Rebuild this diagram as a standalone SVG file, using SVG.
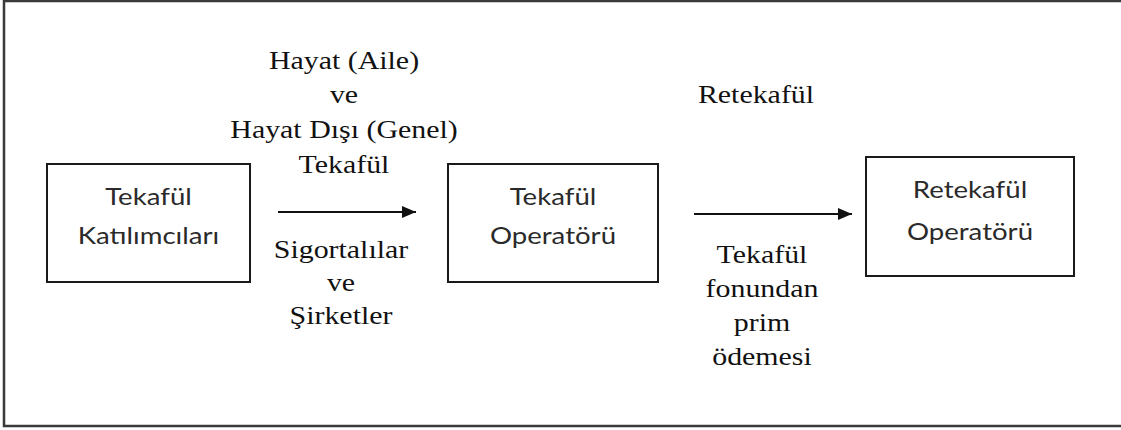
<svg xmlns="http://www.w3.org/2000/svg" width="1121" height="430" viewBox="0 0 1121 430">
  <defs>
    <style>
      .frame { fill: #ffffff; stroke: #3a3a3a; stroke-width: 2.5; }
      .box { fill: #ffffff; stroke: #1a1a1a; stroke-width: 2; }
      .conn { stroke: #111111; stroke-width: 2; fill: none; }
      .serif { font-family: "Liberation Serif", "Times New Roman", serif; font-size: 26px; fill: #111111; text-anchor: middle; }
      .sans { font-family: Lato, "Open Sans", sans-serif; font-size: 24px; fill: #2a2a2a; text-anchor: middle; }
    </style>
    <marker id="arrow" viewBox="0 0 14 12" refX="14" refY="6" markerWidth="14" markerHeight="12" markerUnits="userSpaceOnUse" orient="auto">
      <path d="M0,0 L14,6 L0,12 Z" fill="#111111"/>
    </marker>
  </defs>
  <rect width="1121" height="430" fill="#ffffff"/>
  <rect class="frame" x="4" y="1" width="1130" height="425"/>

  <g id="node-katilimcilar">
    <rect class="box" x="47" y="164" width="203" height="118"/>
    <text class="sans" transform="translate(148.5,205) scale(1.15,1)">Tekafül</text>
    <text class="sans" transform="translate(148.5,244) scale(1.15,1)">Katılımcıları</text>
  </g>

  <g id="node-operator">
    <rect class="box" x="448" y="164" width="210" height="118"/>
    <text class="sans" transform="translate(553,205) scale(1.15,1)">Tekafül</text>
    <text class="sans" transform="translate(553,244) scale(1.15,1)">Operatörü</text>
  </g>

  <g id="node-retekaful">
    <rect class="box" x="866" y="157" width="208" height="119"/>
    <text class="sans" transform="translate(970,198) scale(1.15,1)">Retekafül</text>
    <text class="sans" transform="translate(970,240) scale(1.15,1)">Operatörü</text>
  </g>

  <g id="connectors">
    <line class="conn" x1="278" y1="212" x2="416" y2="212" marker-end="url(#arrow)"/>
    <line class="conn" x1="694" y1="214" x2="852" y2="214" marker-end="url(#arrow)"/>
  </g>

  <g id="labels">
    <text class="serif" transform="translate(344,69) scale(1.15,1)">Hayat (Aile)</text>
    <text class="serif" transform="translate(344,103) scale(1.15,1)">ve</text>
    <text class="serif" transform="translate(344,138) scale(1.15,1)">Hayat Dışı (Genel)</text>
    <text class="serif" transform="translate(344,173) scale(1.15,1)">Tekafül</text>

    <text class="serif" transform="translate(341,258) scale(1.15,1)">Sigortalılar</text>
    <text class="serif" transform="translate(341,291) scale(1.15,1)">ve</text>
    <text class="serif" transform="translate(341,324) scale(1.15,1)">Şirketler</text>

    <text class="serif" transform="translate(756,103) scale(1.15,1)">Retekafül</text>

    <text class="serif" transform="translate(762,263) scale(1.15,1)">Tekafül</text>
    <text class="serif" transform="translate(762,297) scale(1.15,1)">fonundan</text>
    <text class="serif" transform="translate(762,331) scale(1.15,1)">prim</text>
    <text class="serif" transform="translate(762,365) scale(1.15,1)">ödemesi</text>
  </g>
</svg>
